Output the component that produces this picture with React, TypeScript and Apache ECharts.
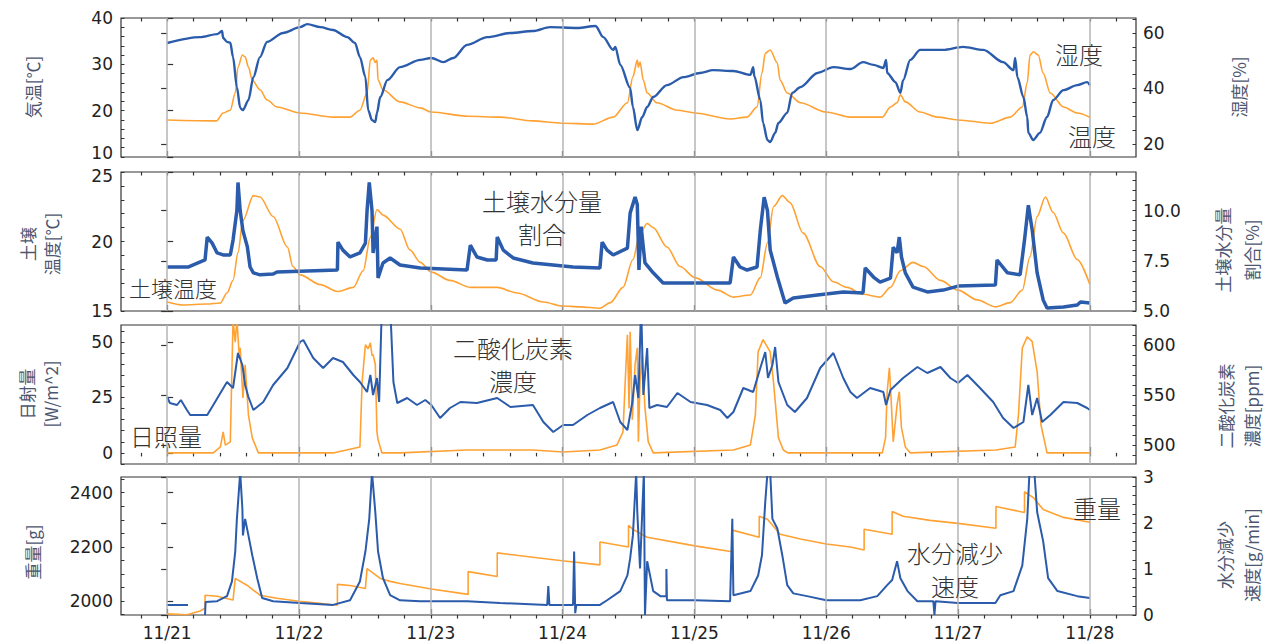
import React, { useEffect, useRef } from "react";
import * as echarts from "echarts";

// ---- x axis (hours from 11/21 00:00) ----
const X_MIN = -8.4;
const X_MAX = 176.4;
const dayTicks = [0, 24, 48, 72, 96, 120, 144, 168];
const dayLabels = ["11/21", "11/22", "11/23", "11/24", "11/25", "11/26", "11/27", "11/28"];

// ---- panel 1 : air temperature [°C] (left) / humidity [%] (right) ----
const airTemp: [number, number][] = [
  [0, 18.0], [9, 17.8], [10.2, 19.5], [11.5, 20.1], [12.4, 23.8], [12.9, 29.4], [13.7, 32.0], [14.2, 31.6], [14.8, 29.4], [15.5, 26.6], [16.9, 24.5], [18.2, 22.3], [20.0, 20.8], [24.2, 19.5], [30.2, 18.6], [33.3, 18.6], [35.1, 20.1], [36.4, 23.8], [37.0, 30.9], [37.5, 31.4], [37.9, 30.4], [38.2, 30.9], [38.4, 26.6], [39.3, 24.5], [42.4, 21.9], [46.1, 20.6], [48.1, 19.7], [54.8, 18.8], [60.6, 18.6], [66.6, 17.8], [71.9, 17.3], [77.6, 17.1], [81.2, 18.6], [83.8, 21.7], [84.8, 27.3], [85.6, 30.9], [85.8, 29.4], [86.1, 30.5], [86.7, 26.6], [87.4, 23.8], [89.2, 21.7], [92.9, 20.1], [96.1, 19.5], [102.5, 18.2], [105.6, 18.6], [107.4, 20.8], [108.3, 28.1], [108.9, 32.4], [109.8, 33.1], [111.1, 30.3], [111.6, 26.6], [112.9, 23.8], [115.3, 21.7], [120.0, 19.7], [124.4, 18.6], [130.2, 18.6], [131.7, 20.8], [132.9, 21.7], [133.5, 23.4], [134.4, 21.9], [137.1, 19.7], [140.2, 18.6], [144.0, 18.0], [149.9, 17.3], [153.5, 18.6], [155.7, 20.8], [156.6, 26.0], [157.1, 32.0], [157.7, 32.7], [158.6, 32.0], [159.5, 28.1], [160.8, 23.8], [163.2, 20.8], [165.7, 19.5], [168, 18.6],
];
const humidity: [number, number][] = [
  [0, 56.4], [6.0, 58.5], [9.1, 59.6], [10.0, 60.7], [10.2, 58.2], [10.9, 56.8], [11.5, 56.5], [12.0, 51.3], [12.7, 40.5], [13.3, 33.0], [13.8, 32.2], [14.8, 35.8], [15.7, 44.1], [16.9, 51.3], [18.2, 56.8], [21.1, 60.0], [24.2, 62.1], [25.5, 63.2], [27.9, 62.1], [30.2, 61.1], [32.8, 58.5], [34.2, 56.4], [35.1, 51.3], [36.1, 44.1], [36.6, 32.2], [37.3, 28.6], [37.9, 27.9], [38.2, 31.2], [38.8, 36.9], [40.1, 43.0], [42.4, 47.7], [46.1, 50.3], [48.1, 51.0], [50.3, 49.5], [52.1, 51.0], [54.6, 55.7], [58.3, 58.5], [62.5, 60.0], [66.6, 60.7], [69.7, 62.1], [74.7, 61.8], [78.0, 62.5], [79.4, 58.5], [81.2, 53.9], [81.6, 55.0], [82.5, 48.5], [84.3, 40.2], [84.8, 33.3], [85.6, 25.0], [86.5, 29.7], [87.4, 33.3], [88.5, 36.9], [91.0, 41.2], [94.0, 44.1], [97.0, 45.6], [99.4, 46.6], [103.1, 46.3], [106.2, 44.9], [106.7, 47.7], [106.9, 44.5], [108.0, 35.8], [108.5, 27.6], [109.3, 21.4], [109.8, 20.7], [110.7, 24.0], [111.3, 27.6], [112.9, 31.2], [113.8, 38.4], [115.3, 40.5], [118.4, 45.6], [121.3, 47.7], [124.4, 47.0], [126.7, 49.5], [128.6, 48.5], [130.4, 47.4], [130.9, 50.3], [131.1, 45.6], [132.6, 42.3], [133.5, 38.4], [134.0, 43.0], [135.3, 50.3], [137.1, 53.9], [141.3, 53.9], [144.9, 55.0], [148.6, 53.9], [152.2, 49.5], [154.1, 46.6], [154.4, 51.0], [154.8, 44.1], [155.9, 36.9], [156.6, 29.7], [156.8, 24.0], [157.7, 21.4], [158.9, 24.0], [160.2, 29.7], [161.3, 35.8], [163.2, 39.4], [165.7, 41.2], [167.5, 42.3], [168, 41.2],
];

// ---- panel 2 : soil temperature [°C] (left) / soil moisture [%] (right) ----
const soilTemp: [number, number][] = [
  [0, 15.65], [2.9, 15.43], [7.3, 15.5], [9.7, 15.58], [10.9, 16.3], [12.0, 17.2], [12.9, 19.2], [13.8, 21.5], [15.7, 23.3], [16.9, 23.2], [19.3, 21.8], [21.9, 19.6], [22.9, 18.2], [24.2, 17.6], [27.9, 16.9], [31.0, 16.4], [33.9, 16.7], [35.7, 17.9], [37.0, 20.3], [38.2, 22.3], [39.3, 21.9], [42.4, 20.9], [44.2, 19.4], [46.1, 18.5], [48.1, 17.8], [51.5, 17.2], [55.2, 16.7], [60.1, 16.7], [63.7, 16.3], [68.5, 15.65], [71.9, 15.36], [75.2, 15.3], [78.8, 15.2], [80.7, 15.6], [83.0, 16.7], [84.8, 18.7], [86.1, 20.6], [87.4, 21.3], [88.5, 21.0], [91.0, 19.6], [93.4, 18.2], [96.1, 17.4], [100.2, 16.5], [103.1, 16.0], [106.2, 16.15], [108.0, 17.4], [109.3, 19.9], [110.4, 22.5], [112.0, 23.3], [113.4, 22.8], [115.8, 20.6], [118.9, 18.2], [121.3, 17.1], [123.8, 16.7], [126.7, 16.2], [129.8, 16.0], [131.7, 16.7], [133.5, 17.9], [135.8, 18.5], [137.7, 18.2], [140.8, 17.2], [144.0, 16.5], [147.5, 15.8], [150.8, 15.3], [153.5, 15.6], [155.7, 16.5], [157.1, 18.9], [158.4, 21.8], [159.9, 23.2], [161.3, 22.1], [163.2, 20.6], [165.7, 18.7], [168, 16.9],
];
const soilMoisture: [number, number][] = [
  [0, 7.19], [3.8, 7.19], [6.9, 7.54], [7.3, 8.68], [8.2, 8.38], [9.1, 7.89], [10.2, 7.79], [11.5, 7.79], [12.0, 8.53], [12.7, 10.0], [12.9, 11.4], [13.3, 10.0], [13.8, 9.0], [14.6, 8.2], [15.1, 7.19], [15.7, 6.9], [16.9, 6.8], [19.3, 6.84], [20.0, 6.94], [31.0, 7.04], [31.1, 8.43], [32.0, 8.03], [33.3, 7.69], [35.1, 7.89], [36.1, 8.38], [36.4, 10.0], [36.8, 11.4], [37.3, 10.0], [37.5, 7.89], [38.2, 9.2], [38.4, 6.64], [39.3, 7.39], [40.6, 7.64], [42.4, 7.29], [46.1, 7.14], [54.6, 7.04], [55.2, 8.28], [56.4, 7.69], [58.3, 7.54], [59.9, 7.54], [60.1, 8.68], [61.2, 8.03], [63.0, 7.64], [66.6, 7.39], [73.9, 7.19], [78.8, 7.14], [79.2, 8.43], [80.1, 8.03], [81.2, 7.79], [83.8, 8.13], [84.3, 9.88], [85.2, 10.67], [85.6, 10.3], [85.9, 7.04], [86.3, 9.2], [87.0, 7.39], [88.5, 6.9], [90.3, 6.39], [102.5, 6.39], [103.1, 7.69], [104.3, 7.19], [105.6, 7.04], [107.4, 7.19], [108.0, 9.03], [108.7, 10.67], [109.3, 10.0], [109.8, 8.03], [111.1, 6.69], [112.5, 5.4], [114.0, 5.65], [118.4, 5.8], [123.1, 5.95], [126.7, 5.9], [127.1, 7.14], [128.6, 6.69], [129.8, 6.44], [131.7, 6.64], [132.2, 8.18], [132.9, 7.9], [133.3, 8.68], [133.7, 7.69], [134.4, 6.9], [135.8, 6.19], [138.4, 5.95], [141.3, 6.04], [144.0, 6.24], [150.8, 6.29], [151.1, 7.54], [153.0, 6.9], [155.3, 6.8], [156.1, 8.53], [156.8, 10.27], [157.5, 9.03], [158.4, 6.9], [159.5, 5.55], [160.2, 5.15], [163.2, 5.2], [165.7, 5.3], [166.3, 5.45], [168, 5.4],
];

// ---- panel 3 : solar radiation [W/m^2] (left) / CO2 [ppm] (right) ----
const solar: [number, number][] = [
  [0, 0], [8.4, 0], [9.7, 2.7], [10.2, 9.5], [10.6, 3.5], [11.5, 5], [12.0, 60], [12.4, 50], [12.7, 60], [13.1, 45], [13.3, 47.4], [13.8, 24.8], [14.2, 39.8], [14.8, 17.2], [15.5, 6.8], [16.6, 0], [30.2, 0], [35.1, 2.7], [35.5, 32], [36.1, 48.8], [36.6, 47], [37.0, 49.7], [37.3, 44], [37.5, 44.3], [37.9, 40], [38.2, 9.5], [38.4, 6], [39.1, 0], [42.4, 0], [54.6, 1.3], [66.6, 1.3], [72.1, 0.4], [78.8, 1.3], [81.9, 3.6], [83.0, 9.5], [83.4, 32], [83.8, 53.3], [84.1, 20], [84.3, 54.7], [84.7, 15], [85.2, 40], [85.6, 47.4], [85.8, 5], [86.1, 32], [86.5, 44.3], [87.0, 20.3], [87.6, 5], [88.5, 0], [103.1, 1.3], [106.2, 3.6], [107.1, 17.2], [107.6, 45.6], [108.5, 51.1], [109.8, 45.6], [110.4, 32], [111.3, 6.8], [112.2, 1.3], [113, 0], [130.2, 0], [130.8, 6.8], [131.1, 27.6], [131.5, 38.4], [131.8, 24.8], [132.2, 5], [132.9, 21.7], [133.3, 27.6], [133.7, 11.3], [134.4, 2.7], [135.3, 0], [150.9, 1.3], [154.4, 2.7], [155.0, 17.2], [155.7, 47.4], [156.6, 52.4], [157.5, 50.2], [158.4, 36.6], [159.1, 12.6], [160.2, 0], [168, 0],
];
const co2: [number, number][] = [
  [0, 548], [0.5, 542], [1.8, 540], [2.5, 545], [3.6, 535], [4.2, 530], [7.3, 530], [8.4, 540], [9.7, 552], [10.9, 563], [12.0, 557], [12.9, 592], [13.7, 580], [14.2, 560], [14.8, 548], [15.7, 535], [17.5, 543], [19.3, 560], [21.9, 577], [24.2, 603], [24.8, 605], [26.6, 587], [28.4, 577], [30.2, 587], [32.0, 583], [33.9, 570], [35.1, 563], [36.4, 553], [37.0, 570], [37.5, 550], [38.2, 567], [38.6, 543], [39.1, 640], [40.6, 640], [41.2, 563], [41.9, 542], [43.7, 547], [45.5, 540], [47, 545], [48.1, 540], [49.7, 527], [51.5, 537], [53.4, 543], [56.4, 542], [60.1, 547], [62.5, 538], [66.6, 540], [68.5, 523], [70.3, 513], [72.1, 520], [73.9, 520], [76.5, 530], [78.8, 537], [81.2, 543], [82.5, 523], [83.8, 515], [84.7, 543], [85.2, 570], [85.8, 547], [86.3, 640], [86.7, 550], [87.4, 597], [87.8, 537], [89.2, 540], [91.0, 538], [92.9, 552], [95.3, 543], [98.3, 540], [100.7, 535], [102.0, 527], [103.1, 533], [104.9, 557], [106.7, 553], [108.0, 577], [108.9, 593], [109.4, 567], [110.2, 580], [110.7, 598], [111.3, 563], [112.9, 540], [114.3, 533], [116.5, 547], [118.9, 577], [121.3, 592], [123.1, 567], [124.4, 553], [125.6, 547], [128.0, 557], [130.4, 553], [130.9, 540], [131.7, 555], [134.0, 567], [136.6, 578], [138.4, 572], [140.8, 578], [142.6, 567], [144.0, 562], [145.7, 570], [148.0, 557], [150.4, 543], [152.2, 527], [154.1, 517], [155.9, 523], [156.8, 560], [157.5, 530], [158.4, 547], [159.3, 523], [160.8, 530], [163.2, 543], [165.7, 542], [167.5, 537], [168, 535],
];

// ---- panel 4 : weight [g] (left) / water loss rate [g/min] (right) ----
const weight: [number, number][] = [
  [0, 1953], [3.6, 1950], [6.0, 1964], [6.9, 1974], [6.9, 2022], [9.1, 2018], [12.0, 2004], [12.4, 2084], [14.6, 2058], [16.9, 2022], [20.0, 2011], [24.0, 2000], [27.3, 1993], [31.0, 1985], [31.0, 2062], [33.3, 2058], [36.1, 2047], [36.4, 2120], [38.8, 2084], [40.6, 2073], [42.4, 2065], [48.1, 2045], [54.8, 2025], [54.8, 2109], [60.1, 2091], [60.1, 2178], [71.9, 2149], [78.8, 2134], [78.8, 2218], [84.0, 2200], [84.0, 2280], [84.8, 2265], [87.4, 2236], [96.1, 2204], [102.9, 2182], [102.9, 2262], [107.8, 2236], [107.8, 2313], [109.3, 2302], [111.6, 2247], [115.3, 2229], [120.0, 2211], [124.4, 2200], [126.9, 2189], [126.9, 2265], [132.0, 2247], [132.0, 2331], [134.0, 2313], [138.9, 2298], [144.0, 2287], [150.9, 2269], [150.9, 2349], [156.1, 2327], [156.1, 2404], [157.7, 2382], [159.5, 2338], [163.2, 2309], [168, 2291],
];
const lossRate: [number, number | string][] = [
  [0, 0.22], [3.8, 0.22], [4.0, "-"], [6.9, 0.0], [7.0, 0.28], [9.1, 0.30], [10.9, 0.41], [11.8, 0.73], [12.4, 1.38], [12.7, 2.09], [13.3, 3.1], [13.7, 2.31], [13.8, 1.73], [14.2, 2.09], [14.8, 1.73], [15.5, 1.3], [16.4, 0.8], [17.3, 0.37], [19.3, 0.3], [24.2, 0.26], [30.2, 0.22], [33.3, 0.32], [35.1, 0.73], [36.1, 1.38], [36.8, 2.09], [37.3, 3.1], [37.9, 2.24], [38.4, 1.38], [39.3, 0.8], [40.6, 0.43], [42.4, 0.32], [46.1, 0.3], [54.6, 0.3], [60.6, 0.26], [69.2, 0.22], [69.4, 0.63], [69.6, 0.22], [73.9, 0.22], [74.1, 1.38], [74.3, 0.04], [74.5, 0.22], [78.8, 0.22], [80.1, 0.32], [82.5, 0.52], [83.8, 0.86], [84.3, 1.23], [84.8, 1.73], [85.4, 3.1], [85.6, 2.24], [86.1, 1.01], [86.5, 2.24], [86.8, 3.1], [87.0, 0], [87.4, 1.17], [88.5, 0.52], [89.8, 0.41], [90.9, 0.41], [90.9, 1.0], [91.0, 0.32], [96.1, 0.32], [102.5, 0.3], [102.9, 2.09], [103.1, 0.43], [106.2, 0.52], [107.6, 0.86], [108.3, 1.3], [108.9, 2.46], [109.3, 3.1], [109.8, 3.1], [110.2, 2.09], [111.1, 1.88], [112.0, 1.3], [112.9, 0.65], [114.0, 0.47], [116.5, 0.41], [120.0, 0.32], [124.4, 0.32], [126.2, 0.32], [129.3, 0.41], [131.1, 0.65], [132.0, 0.76], [132.9, 1.17], [133.5, 0.8], [134.8, 0.52], [136.6, 0.3], [139.5, 0.3], [139.7, 0], [139.9, 0.3], [144.0, 0.26], [150.8, 0.26], [151.7, 0.43], [154.1, 0.52], [155.7, 1.08], [156.6, 2.09], [157.0, 3.1], [157.9, 3.1], [158.4, 2.24], [159.5, 1.6], [160.4, 0.8], [162.1, 0.52], [165.7, 0.41], [168, 0.37],
];

// ---- y tick labels ----
const p1LeftTicks = [10, 20, 30, 40];
const p1RightTicks = [20, 40, 60];
const p2LeftTicks = [15, 20, 25];
const p2RightTicks = [5, 7.5, 10];
const p3LeftTicks = [0, 25, 50];
const p3RightTicks = [500, 550, 600];
const p4LeftTicks = [2000, 2200, 2400];
const p4RightTicks = [0, 1, 2, 3];

const BLUE = "#2b5bab";
const ORANGE = "#ffa233";
const TICK_COLOR = "#222";
const NAME_COLOR = "#4d5670";
const NOTE_COLOR = "#333";

function steps(from: number, to: number, step: number): number[] {
  const out: number[] = [];
  const n = Math.round((to - from) / step);
  for (let i = 0; i <= n; i++) out.push(+(from + i * step).toFixed(4));
  return out;
}

const GRIDS = [
  { top: 18, height: 139 },
  { top: 172, height: 139 },
  { top: 325, height: 139 },
  { top: 477, height: 140 },
];

type YSpec = { min: number; max: number; ticks: number[]; minor: number[]; fmt?: (v: number) => string };
const Y_SPECS: [YSpec, YSpec][] = [
  [
    // bottom label "10" nudged up a little so it does not collide with the panel below
    { min: 10, max: 40, ticks: p1LeftTicks, minor: steps(10, 40, 2), fmt: (v) => (v === 10 ? "{up|10}" : String(v)) },
    { min: 15.3, max: 65.4, ticks: p1RightTicks, minor: steps(20, 65, 5) },
  ],
  [
    { min: 15, max: 25, ticks: p2LeftTicks, minor: steps(15, 25, 1), fmt: (v) => (v === 25 ? "{down|25}" : String(v)) },
    { min: 5, max: 11.92, ticks: p2RightTicks, minor: steps(5, 11.5, 0.5), fmt: (v) => v.toFixed(1) },
  ],
  [
    { min: -5, max: 57.7, ticks: p3LeftTicks, minor: steps(-5, 55, 5) },
    { min: 481, max: 620, ticks: p3RightTicks, minor: steps(490, 620, 10) },
  ],
  [
    { min: 1949, max: 2458, ticks: p4LeftTicks, minor: steps(1950, 2450, 50) },
    { min: 0, max: 3, ticks: p4RightTicks, minor: steps(0, 3, 0.2) },
  ],
];

const LABEL_FONT = { fontFamily: "DejaVu Sans", fontSize: 17, color: TICK_COLOR };
const RICH = {
  up: { fontFamily: "DejaVu Sans", fontSize: 17, color: TICK_COLOR, padding: [0, 0, 8, 0] },
  down: { fontFamily: "DejaVu Sans", fontSize: 17, color: TICK_COLOR, padding: [8, 0, 0, 0] },
};

function buildOption() {
  const grid = GRIDS.map((g) => ({
    left: 121,
    right: 133,
    top: g.top,
    height: g.height,
    show: true,
    borderColor: "#333",
    borderWidth: 1.2,
    backgroundColor: "transparent",
  }));

  const xAxis: any[] = [];
  const yAxis: any[] = [];
  GRIDS.forEach((_, gi) => {
    xAxis.push({
      type: "value",
      gridIndex: gi,
      min: X_MIN,
      max: X_MAX,
      axisLine: { show: false },
      splitLine: { show: false },
      axisTick: { show: true, inside: true, length: 6, customValues: dayTicks, lineStyle: { color: "#333", width: 1.2 } },
      axisLabel: {
        show: gi === 3,
        customValues: dayTicks,
        margin: 9,
        ...LABEL_FONT,
        formatter: (v: number) => {
          const i = dayTicks.indexOf(Math.round(v));
          return i >= 0 ? dayLabels[i] : "";
        },
      },
    });
    xAxis.push({
      type: "value",
      gridIndex: gi,
      min: X_MIN,
      max: X_MAX,
      axisLine: { show: false },
      splitLine: { show: false },
      axisLabel: { show: false },
      axisTick: { show: true, inside: true, length: 3.5, customValues: steps(-4.8, 172.8, 4.8), lineStyle: { color: "#333", width: 1.2 } },
    });

    const [L, R] = Y_SPECS[gi];
    [L, R].forEach((s, side) => {
      yAxis.push({
        type: "value",
        gridIndex: gi,
        position: side === 0 ? "left" : "right",
        min: s.min,
        max: s.max,
        axisLine: { show: false },
        splitLine: { show: false },
        axisTick: { show: true, inside: true, length: 6, customValues: s.ticks, lineStyle: { color: "#333", width: 1.2 } },
        axisLabel: {
          show: true,
          customValues: s.ticks,
          margin: side === 0 ? 8 : 7,
          ...LABEL_FONT,
          rich: RICH,
          formatter: s.fmt ? (v: number) => s.fmt!(v) : (v: number) => String(v),
        },
      });
    });
    [L, R].forEach((s, side) => {
      yAxis.push({
        type: "value",
        gridIndex: gi,
        position: side === 0 ? "left" : "right",
        min: s.min,
        max: s.max,
        axisLine: { show: false },
        splitLine: { show: false },
        axisLabel: { show: false },
        axisTick: { show: true, inside: true, length: 3.5, customValues: s.minor, lineStyle: { color: "#333", width: 1 } },
      });
    });
  });

  const line = (gi: number, side: number, data: any[], color: string, width: number, z = 3, smooth = false) => ({
    type: "line",
    xAxisIndex: gi * 2,
    yAxisIndex: gi * 4 + side,
    data,
    showSymbol: false,
    symbol: "none",
    z,
    smooth: smooth ? 0.3 : false,
    smoothMonotone: smooth ? "x" : undefined,
    lineStyle: { color, width },
    itemStyle: { color },
    silent: true,
  });

  const gridLines = (gi: number) => ({
    type: "line",
    xAxisIndex: gi * 2,
    yAxisIndex: gi * 4,
    data: [],
    z: 1,
    silent: true,
    markLine: {
      silent: true,
      symbol: ["none", "none"],
      label: { show: false },
      lineStyle: { color: "#b4b4b4", width: 1.5, type: "solid" },
      data: dayTicks.map((d) => ({ xAxis: d })),
    },
  });

  const series: any[] = [
    gridLines(0), gridLines(1), gridLines(2), gridLines(3),
    line(0, 0, airTemp, ORANGE, 1.6, 3, true),
    line(0, 1, humidity, BLUE, 2.4, 4, true),
    line(1, 0, soilTemp, ORANGE, 1.6, 3, true),
    line(1, 1, soilMoisture, BLUE, 3.5, 4),
    line(2, 0, solar, ORANGE, 1.6),
    line(2, 1, co2, BLUE, 2, 4),
    line(3, 0, weight, ORANGE, 1.6),
    line(3, 1, lossRate, BLUE, 2, 4),
  ];

  const nameText = (x: number, y: number, text: string, lh: number) => ({
    type: "text",
    x,
    y,
    rotation: Math.PI / 2,
    silent: true,
    style: {
      text,
      fill: NAME_COLOR,
      fontSize: 17,
      fontFamily: "Noto Sans CJK JP",
      align: "center",
      verticalAlign: "middle",
      lineHeight: lh,
    },
  });
  const note = (x: number, y: number, text: string, size = 24, lh = 33) => ({
    type: "text",
    x,
    y,
    silent: true,
    z: 10,
    style: {
      text,
      fill: NOTE_COLOR,
      fontSize: size,
      fontFamily: "Noto Sans CJK JP",
      fontWeight: 300,
      align: "center",
      verticalAlign: "middle",
      lineHeight: lh,
    },
  });

  const graphic = [
    nameText(32, 87, "気温[℃]", 24),
    nameText(39, 244, "土壌\n温度[℃]", 24),
    nameText(38.5, 394, "日射量\n[W/m^2]", 24),
    nameText(32, 552, "重量[g]", 24),
    nameText(1238, 87, "湿度[%]", 26),
    nameText(1237, 250, "土壌水分量\n割合[%]", 29),
    nameText(1238, 406, "二酸化炭素\n濃度[ppm]", 26),
    nameText(1238, 555, "水分減少\n速度[g/min]", 27),
    note(1079, 53, "湿度"),
    note(1092, 135, "温度"),
    note(173, 287, "土壌温度", 22),
    note(542, 217, "土壌水分量\n割合"),
    note(513, 364, "二酸化炭素\n濃度"),
    note(166, 435, "日照量"),
    note(1097, 507, "重量"),
    note(955, 569, "水分減少\n速度"),
  ];

  return {
    animation: false,
    backgroundColor: "#fff",
    grid,
    xAxis,
    yAxis,
    series,
    graphic,
  };
}

export default function App() {
  const ref = useRef<HTMLDivElement>(null);
  useEffect(() => {
    if (!ref.current) return;
    const chart = echarts.init(ref.current, undefined, { renderer: "svg" });
    chart.setOption(buildOption() as any);
    return () => chart.dispose();
  }, []);
  return (
    <div
      ref={ref}
      style={{ position: "fixed", left: 0, top: 0, width: 1269, height: 641, background: "#fff" }}
    />
  );
}
